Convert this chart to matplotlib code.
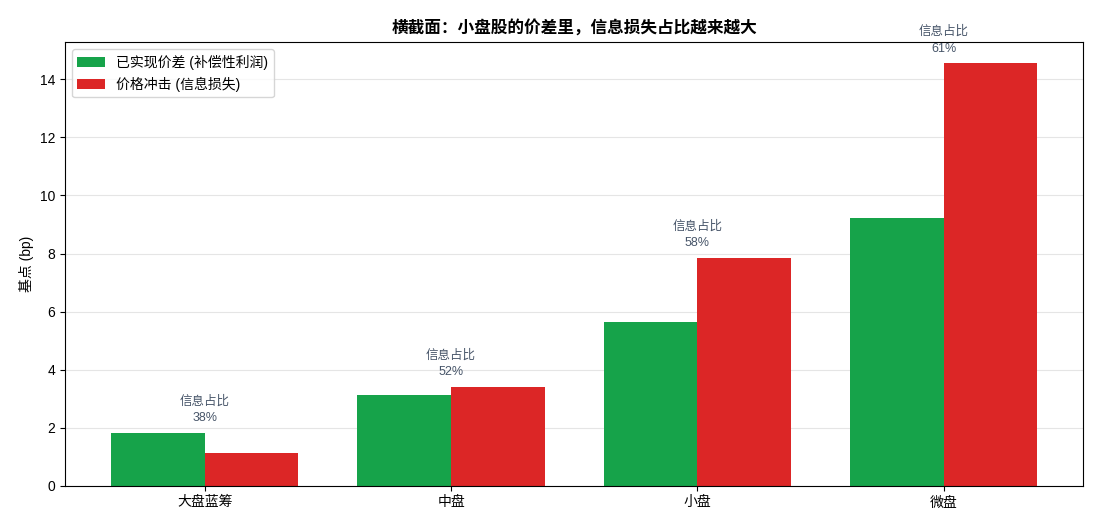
import matplotlib
matplotlib.use("Agg")
import matplotlib.pyplot as plt
import numpy as np

plt.rcParams['font.family'] = ['Liberation Sans', 'Noto Sans CJK SC', 'DejaVu Sans']

groups = ['大盘蓝筹', '中盘', '小盘', '微盘']
realized = [1.82, 3.13, 5.64, 9.22]
impact = [1.13, 3.41, 7.84, 14.55]
info_share = ['38%', '52%', '58%', '61%']

x = np.arange(len(groups))
w = 0.38

fig, ax = plt.subplots(figsize=(11, 5.28), dpi=100)
ax.bar(x - w / 2, realized, w, color='#16a34a', label='已实现价差 (补偿性利润)')
ax.bar(x + w / 2, impact, w, color='#dc2626', label='价格冲击 (信息损失)')

for i in range(len(groups)):
    top = max(realized[i], impact[i])
    ax.text(x[i], top + 0.3, f'信息占比\n{info_share[i]}', ha='center', va='bottom',
            fontsize=9, color='#475569', linespacing=1.5)

ax.set_xticks(x)
ax.set_xticklabels(groups, fontsize=10)
ax.set_ylabel('基点 (bp)', fontsize=10)
ax.set_title('横截面：小盘股的价差里，信息损失占比越来越大', fontsize=12, fontweight='bold')
ax.yaxis.grid(True, color='#e5e5e5', linewidth=0.8)
ax.set_axisbelow(True)
ax.legend(loc='upper left', fontsize=10)

fig.subplots_adjust(left=0.059, right=0.985, top=0.92, bottom=0.08)
fig.savefig('out.png')
